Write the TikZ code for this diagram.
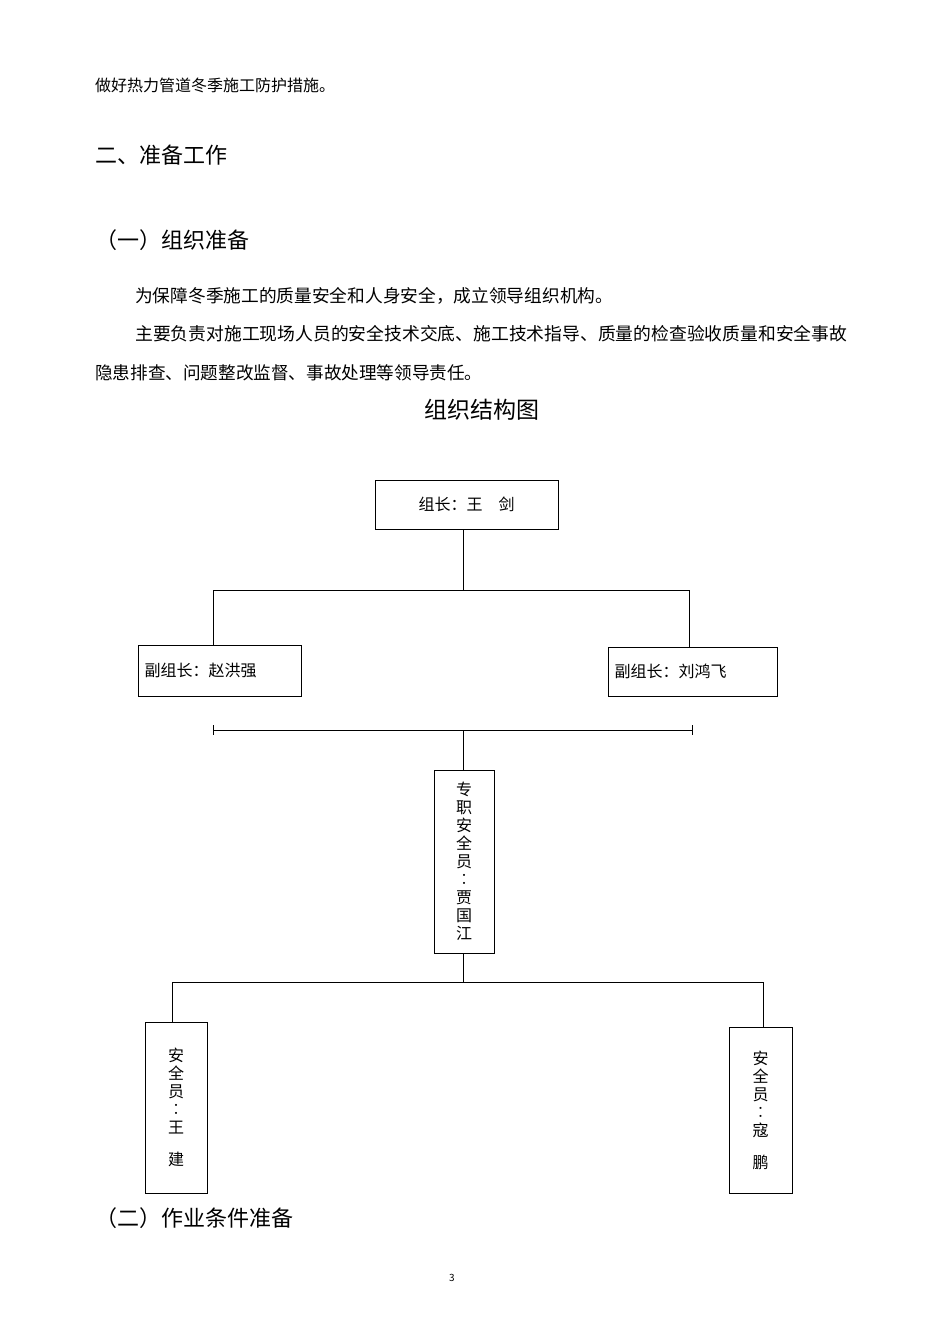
\documentclass[tikz,border=0pt]{standalone}
\usepackage{fontspec}
\setmainfont{Noto Sans CJK SC}
\begin{document}
\begin{tikzpicture}[x=1pt,y=-1pt,
  body/.style={anchor=west,inner sep=0pt,font=\fontsize{16}{18}\selectfont},
  head/.style={anchor=west,inner sep=0pt,font=\fontsize{22}{24}\selectfont},
  box/.style={draw,line width=1pt,inner sep=0pt,font=\fontsize{16}{18}\selectfont},
  ln/.style={line width=1pt}]
\fill[white] (0,0) rectangle (950,1344);
\node[body] (t1) at (95,85) {做好热力管道冬季施工防护措施。};
\node[head] (h1) at (95,155) {二、准备工作};
\node[head] (h2) at (95,240) {（一）组织准备};
\node[body,font=\fontsize{17.7}{18}\selectfont] (p1) at (135,296) {为保障冬季施工的质量安全和人身安全，成立领导组织机构。};
\node[body,font=\fontsize{17.8}{18}\selectfont] (p2) at (135,334) {主要负责对施工现场人员的安全技术交底、施工技术指导、质量的检查验收质量和安全事故};
\node[body,font=\fontsize{17.6}{18}\selectfont] (p3) at (95,373) {隐患排查、问题整改监督、事故处理等领导责任。};
\node[inner sep=0pt,font=\fontsize{23}{24}\selectfont] (title) at (482,410) {组织结构图};

\node[box,minimum width=183pt,minimum height=49pt] (b1) at (466.5,504.5) {组长：王\quad 剑};
\node[box,minimum width=163pt,minimum height=51pt,align=left,text width=150pt] (b2) at (219.5,670.5) {副组长：赵洪强};
\node[box,minimum width=169pt,minimum height=49pt,align=left,text width=156pt] (b3) at (692.5,671.5) {副组长：刘鸿飞};
\node[box,minimum width=60pt,minimum height=183pt,align=center] (b4) at (464,861.5) {专\\职\\安\\全\\员\\︰\\贾\\国\\江};
\node[box,minimum width=62pt,minimum height=171pt,align=center] (b5) at (176,1107.5) {安\\全\\员\\︰\\王\\[14pt]建};
\node[box,minimum width=63pt,minimum height=166pt,align=center] (b6) at (760.5,1110) {安\\全\\员\\︰\\寇\\[14pt]鹏};

\coordinate (j1) at (463,590);
\draw[ln] (b1.south -| j1) -- (j1);
\draw[ln] (b2.north -| 213,0) -- (213,590) -- (689,590) -- (b3.north -| 689,0);
\coordinate (j2) at (463,730);
\draw[ln] (213,730) -- (692,730);
\draw[ln] (213,725) -- (213,735) (692,725) -- (692,735);
\draw[ln] (j2) -- (b4.north -| j2);
\coordinate (j3) at (463,982);
\draw[ln] (b4.south -| j3) -- (j3);
\draw[ln] (b5.north -| 172,0) -- (172,982) -- (763,982) -- (b6.north -| 763,0);

\node[head] (h3) at (95,1218) {（二）作业条件准备};
\node[inner sep=0pt,font=\fontsize{10}{12}\selectfont] (pg) at (452,1278) {3};
\end{tikzpicture}
\end{document}
